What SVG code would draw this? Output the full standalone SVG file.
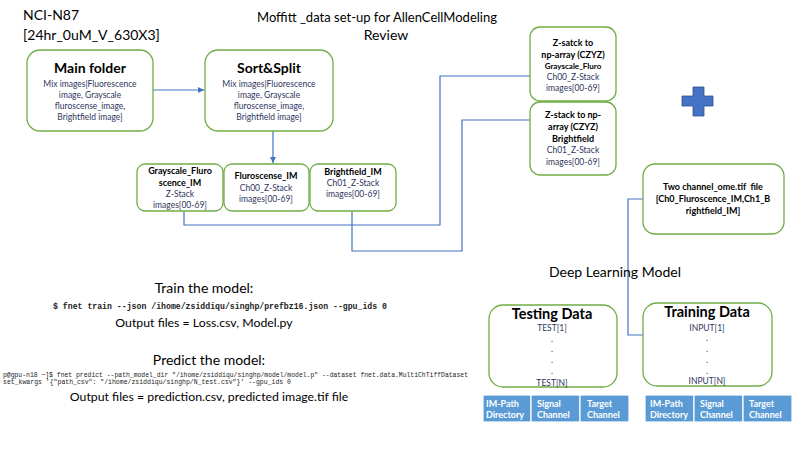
<svg xmlns="http://www.w3.org/2000/svg" width="800" height="450" viewBox="0 0 800 450">
<defs>
<style>
.t{font-family:Lato,"Liberation Sans",sans-serif;fill:#000}
.big{font-size:14px}
.h{font-size:14px;font-weight:bold;text-anchor:middle}
.s{font-size:8.5px;text-anchor:middle;fill:#2E3560}
.b{font-size:9px;font-weight:bold;text-anchor:middle}
.bx{fill:#fff;stroke:#70AD47;stroke-width:1.3}
.c{fill:none;stroke:#4472C4;stroke-width:1.2}
.m{font-family:"Liberation Mono","DejaVu Sans Mono",monospace;fill:#222}
.cell{fill:#5B9BD5;stroke:#fff;stroke-width:1.2}
.ct{font-family:Lato,"Liberation Sans",sans-serif;font-size:9px;font-weight:bold;fill:#fff}
.dd{font-size:14.5px;font-weight:bold;text-anchor:middle}
</style>
<marker id="ar" markerWidth="8" markerHeight="8" refX="6" refY="3" orient="auto" markerUnits="userSpaceOnUse">
<path d="M0,0 L6,3 L0,6 Z" fill="#4472C4"/>
</marker>
</defs>
<rect width="800" height="450" fill="#fff"/>

<text class="t big" x="23" y="20">NCI-N87</text>
<text class="t big" x="23" y="40">[24hr_0uM_V_630X3]</text>
<text class="t big" x="257" y="22" textLength="240" lengthAdjust="spacingAndGlyphs">Moffitt _data set-up for AllenCellModeling</text>
<text class="t big" x="386" y="40" text-anchor="middle">Review</text>

<g id="connectors">
<line class="c" x1="153" y1="90" x2="204" y2="90" marker-end="url(#ar)"/>
<line class="c" x1="273" y1="131" x2="273" y2="163" marker-end="url(#ar)"/>
<polyline class="c" points="184,211 184,225 440,225 440,76 530,76"/>
<polyline class="c" points="352,211 352,251 462,251 462,120 530,120"/>
<polyline class="c" points="643,199 628,199 628,335 703,335 703,322"/>
</g>

<g id="main-folder">
<rect class="bx" x="27" y="50" width="126" height="81" rx="13"/>
<text class="t h" x="90" y="73">Main folder</text>
<text class="t s" x="90" y="87">Mix images|Fluorescence</text>
<text class="t s" x="90" y="98">image,  Grayscale</text>
<text class="t s" x="90" y="109">fluroscense_image,</text>
<text class="t s" x="90" y="120">Brightfield  image]</text>
</g>

<g id="sort-split">
<rect class="bx" x="205" y="50" width="128" height="81" rx="13"/>
<text class="t h" x="269" y="73">Sort&amp;Split</text>
<text class="t s" x="269" y="87">Mix images|Fluorescence</text>
<text class="t s" x="269" y="98">image,  Grayscale</text>
<text class="t s" x="269" y="109">fluroscense_image,</text>
<text class="t s" x="269" y="120">Brightfield  image]</text>
</g>

<g id="grayscale-im">
<rect class="bx" x="137" y="164" width="86" height="47" rx="8"/>
<text class="t b" x="180" y="174">Grayscale_Fluro</text>
<text class="t b" x="180" y="186">scence_IM</text>
<text class="t s" x="180" y="197">Z-Stack</text>
<text class="t s" x="180" y="208">images[00-69]</text>
</g>

<g id="fluroscense-im">
<rect class="bx" x="224" y="164" width="85" height="47" rx="8"/>
<text class="t b" x="266" y="179">Fluroscense_IM</text>
<text class="t s" x="266" y="191">Ch00_Z-Stack</text>
<text class="t s" x="266" y="202">images[00-69]</text>
</g>

<g id="brightfield-im">
<rect class="bx" x="310" y="164" width="86" height="47" rx="8"/>
<text class="t b" x="353" y="175">Brightfield_IM</text>
<text class="t s" x="353" y="186">Ch01_Z-Stack</text>
<text class="t s" x="353" y="197">images[00-69]</text>
</g>

<g id="zstack-fluro">
<rect class="bx" x="530" y="27" width="86" height="74" rx="10"/>
<text class="t b" x="573" y="46">Z-satck to</text>
<text class="t b" x="573" y="58">np-array (CZYZ)</text>
<text class="t b" x="573" y="69" style="font-size:8px">Grayscale_Fluro</text>
<text class="t s" x="573" y="80">Ch00_Z-Stack</text>
<text class="t s" x="573" y="91">images[00-69]</text>
</g>

<g id="zstack-bright">
<rect class="bx" x="530" y="102" width="86" height="73" rx="10"/>
<text class="t b" x="573" y="118">Z-stack to np-</text>
<text class="t b" x="573" y="130">array (CZYZ)</text>
<text class="t b" x="573" y="142">Brightfield</text>
<text class="t s" x="573" y="153">Ch01_Z-Stack</text>
<text class="t s" x="573" y="165">images[00-69]</text>
</g>

<g id="plus">
<path d="M693,87 H704 V96 H713 V106 H704 V116 H693 V106 H682 V96 H693 Z" fill="#4472C4" stroke="#2F528F" stroke-width="0.8"/>
</g>

<g id="two-channel">
<rect class="bx" x="643" y="164" width="141" height="70" rx="12"/>
<text class="t b" x="713" y="190">Two channel_ome.tif&#160; file</text>
<text class="t b" x="713" y="202">[Ch0_Fluroscence_IM,Ch1_B</text>
<text class="t b" x="713" y="214">rightfield_IM]</text>
</g>

<text class="t big" x="615" y="277" text-anchor="middle">Deep Learning Model</text>

<g id="testing-data">
<rect class="bx" x="489" y="305" width="128" height="82" rx="14"/>
<text class="t dd" x="552" y="319">Testing Data</text>
<text class="t s" x="552" y="331">TEST[1]</text>
<text class="t s" x="552" y="342">.</text>
<text class="t s" x="552" y="352">.</text>
<text class="t s" x="552" y="363">.</text>
<text class="t s" x="552" y="374">.</text>
<text class="t s" x="552" y="386">TEST[N]</text>
</g>

<g id="training-data">
<rect class="bx" x="643" y="303" width="129" height="83" rx="14"/>
<text class="t dd" x="707" y="317">Training Data</text>
<text class="t s" x="707" y="331">INPUT[1]</text>
<text class="t s" x="707" y="341">.</text>
<text class="t s" x="707" y="352">.</text>
<text class="t s" x="707" y="363">.</text>
<text class="t s" x="707" y="374">.</text>
<text class="t s" x="707" y="384">INPUT[N]</text>
</g>

<g id="test-table">
<rect class="cell" x="483" y="395" width="48" height="27"/>
<rect class="cell" x="531" y="395" width="49" height="27"/>
<rect class="cell" x="580" y="395" width="49" height="27"/>
<text class="ct" x="486" y="407">IM-Path</text>
<text class="ct" x="486" y="418">Directory</text>
<text class="ct" x="537" y="407">Signal</text>
<text class="ct" x="537" y="418">Channel</text>
<text class="ct" x="587" y="407">Target</text>
<text class="ct" x="587" y="418">Channel</text>
</g>

<g id="train-table">
<rect class="cell" x="645" y="395" width="49" height="27"/>
<rect class="cell" x="694" y="395" width="49" height="27"/>
<rect class="cell" x="743" y="395" width="49" height="27"/>
<text class="ct" x="650" y="407">IM-Path</text>
<text class="ct" x="650" y="418">Directory</text>
<text class="ct" x="700" y="407">Signal</text>
<text class="ct" x="700" y="418">Channel</text>
<text class="ct" x="749" y="407">Target</text>
<text class="ct" x="749" y="418">Channel</text>
</g>

<text class="t big" x="204" y="293" text-anchor="middle">Train the model:</text>
<text class="m" x="53" y="309" style="font-size:8.2px;font-weight:bold" textLength="334" lengthAdjust="spacingAndGlyphs">$ fnet train --json /ihome/zsiddiqu/singhp/prefbz16.json --gpu_ids 0</text>
<text class="t" x="204" y="327" text-anchor="middle" style="font-size:12.3px">Output files = Loss.csv, Model.py</text>

<text class="t big" x="209" y="365" text-anchor="middle">Predict the model:</text>
<text class="m" x="3" y="377" style="font-size:6.4px" textLength="465" lengthAdjust="spacingAndGlyphs">p@gpu-n18 ~]$ fnet predict --path_model_dir "/ihome/zsiddiqu/singhp/model/model.p" --dataset fnet.data.MultiChTiffDataset</text>
<text class="m" x="3" y="384" style="font-size:6.4px" textLength="288" lengthAdjust="spacingAndGlyphs">set_kwargs '{"path_csv": "/ihome/zsiddiqu/singhp/N_test.csv"}' --gpu_ids 0</text>
<text class="t" x="209" y="401" text-anchor="middle" style="font-size:12.3px">Output files = prediction.csv, predicted image.tif file</text>
</svg>
